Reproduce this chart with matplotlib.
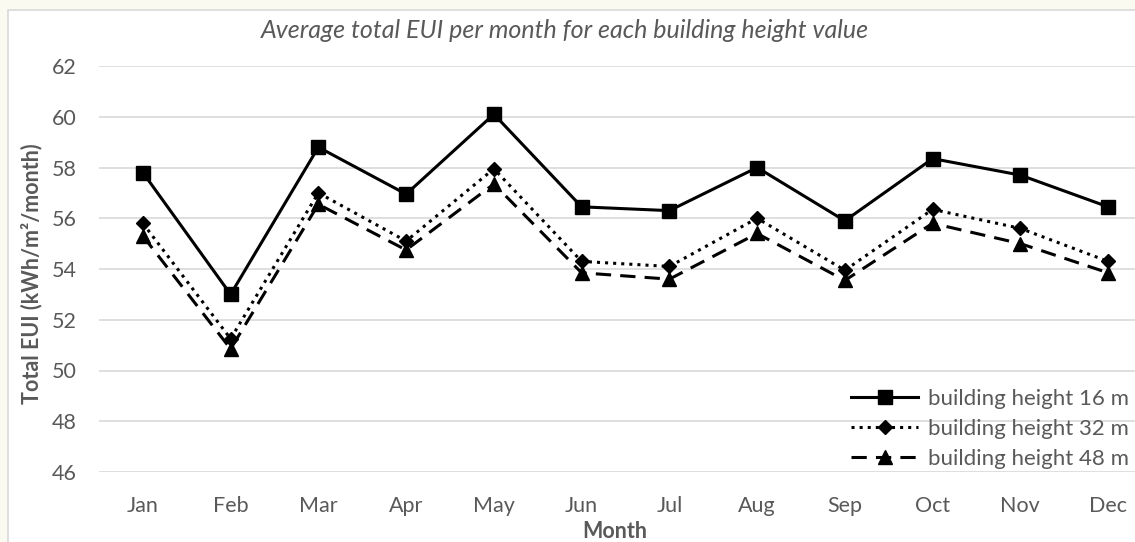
import matplotlib.pyplot as plt
from matplotlib.patches import Rectangle

months = ['Jan', 'Feb', 'Mar', 'Apr', 'May', 'Jun', 'Jul', 'Aug', 'Sep', 'Oct', 'Nov', 'Dec']
eui_16 = [57.8, 53.0, 58.8, 56.95, 60.1, 56.45, 56.3, 58.0, 55.9, 58.35, 57.7, 56.45]
eui_32 = [55.8, 51.25, 57.0, 55.1, 57.95, 54.3, 54.1, 56.0, 53.95, 56.35, 55.6, 54.3]
eui_48 = [55.3, 50.85, 56.55, 54.75, 57.35, 53.85, 53.6, 55.4, 53.55, 55.8, 55.0, 53.85]
yticks = [46, 48, 50, 52, 54, 56, 58, 60, 62]

plt.rcParams['font.family'] = ['Lato', 'DejaVu Sans']
grey = '#595959'

W, H = 1135, 542
fig = plt.figure(figsize=(W/100, H/100), dpi=100)
fig.patch.set_facecolor('#FAFAF1')
fig.patches.append(Rectangle((8/W, -0.1), 1.2, 1 - 10/H + 0.1, transform=fig.transFigure,
                             facecolor='white', edgecolor='#D9D9D9', linewidth=1.2, zorder=-5))

ax = fig.add_axes([99/W, 70/H, (1152-99)/W, 406/H])
ax.set_zorder(2)
ax.set_facecolor('none')
x = range(len(months))

ax.plot(x, eui_16, '-', color='black', lw=2.2, marker='s', ms=10, label='building height 16 m')
ax.plot(x, eui_32, ':', color='black', lw=2.2, marker='D', ms=7.5, label='building height 32 m')
ax.plot(x, eui_48, '--', color='black', lw=2.2, marker='^', ms=10, dashes=(5, 3), label='building height 48 m')

ax.set_xlim(-0.5, len(months) - 0.5)
ax.set_ylim(46, 62)
ax.set_yticks(yticks)
ax.set_xticks(list(x))
ax.set_xticklabels(months)
ax.tick_params(length=0, labelsize=15.5, colors=grey)
ax.tick_params(axis='x', pad=17)
ax.tick_params(axis='y', pad=16)
ax.grid(axis='y', color='#D9D9D9', lw=1.2)
ax.set_axisbelow(True)
for s in ax.spines.values():
    s.set_visible(False)

fig.text(615/W, 1 - 532/H, 'Month', ha='center', va='center',
         fontsize=15.5, fontweight='bold', color=grey)
fig.text(32/W, 1 - 274/H, 'Total EUI (kWh/m²/month)', rotation=90, ha='center', va='center',
         fontsize=15.5, fontweight='bold', color=grey)
fig.text(565/W, 1 - 30/H, 'Average total EUI per month for each building height value',
         ha='center', va='center', fontsize=18, style='italic', color=grey)

leg = fig.legend(loc='lower right', bbox_to_anchor=(1138/W, 64/H), frameon=False,
                 fontsize=16, labelcolor=grey, handlelength=3.0, handletextpad=0.45,
                 labelspacing=0.45, borderaxespad=0)

fig.savefig('out.png', dpi=100, facecolor=fig.get_facecolor())
